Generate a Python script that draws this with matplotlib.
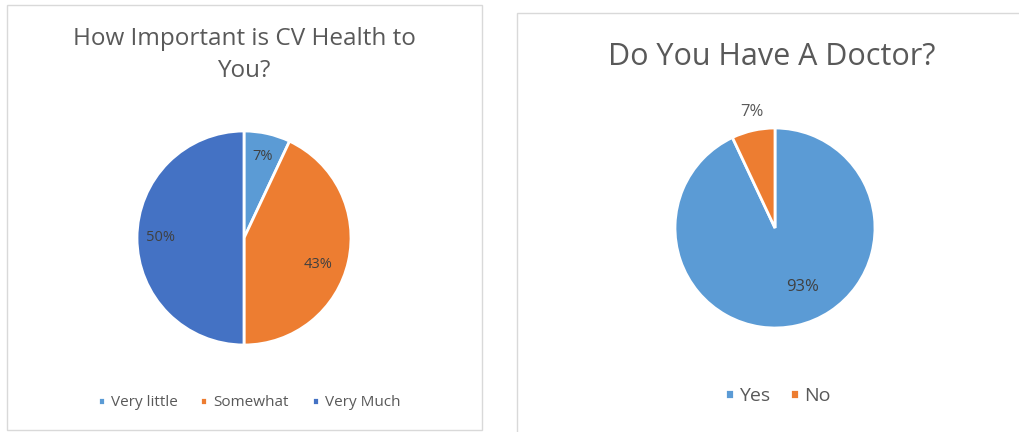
import matplotlib.pyplot as plt
from matplotlib.patches import Rectangle

plt.rcParams['font.family'] = ['Open Sans', 'DejaVu Sans']

# survey results
cv_labels = ['Very little', 'Somewhat', 'Very Much']
cv_values = [7, 43, 50]
doc_labels = ['Yes', 'No']
doc_values = [93, 7]

blue_light = '#5B9BD5'
orange = '#ED7D31'
blue_dark = '#4472C4'
text_grey = '#595959'

W, H = 1019, 432
fig = plt.figure(figsize=(W / 100, H / 100), dpi=100)
fig.patch.set_facecolor('white')


def px_axes(cx, cy, size=300):
    # square axes centred on a pixel position (y measured from top)
    ax = fig.add_axes([(cx - size / 2) / W, 1 - (cy + size / 2) / H, size / W, size / H])
    ax.axis('off')
    return ax


def fix_limits(ax):
    # pie() resets the limits, so pin them afterwards: 100 px per unit
    ax.set_xlim(-1.5, 1.5)
    ax.set_ylim(-1.5, 1.5)
    ax.set_aspect('equal')


# panel frames
fig.add_artist(Rectangle((7 / W, 1 - 430 / H), 475 / W, 425 / H, transform=fig.transFigure,
                         fill=False, edgecolor='#d9d9d9', linewidth=1))
fig.add_artist(Rectangle((517 / W, 1 - 440 / H), 520 / W, 427 / H, transform=fig.transFigure,
                         fill=False, edgecolor='#d9d9d9', linewidth=1))

# left pie
ax1 = px_axes(244, 238)
w1, t1, a1 = ax1.pie(cv_values, colors=[blue_light, orange, blue_dark], startangle=90,
                     counterclock=False, radius=1.07, autopct='%d%%', pctdistance=0.78,
                     wedgeprops=dict(edgecolor='white', linewidth=2),
                     textprops=dict(color='#404040', fontsize=10.5))
fix_limits(ax1)
a1[1].set_position((0.74, -0.26))
fig.text(244 / W, 1 - 55 / H, 'How Important is CV Health to\nYou?', ha='center', va='center',
         fontsize=17.5, color=text_grey, linespacing=1.4)
fig.legend(w1, cv_labels, loc='center', bbox_to_anchor=(249 / W, 1 - 403 / H), ncol=3,
           frameon=False, handlelength=0.45, handleheight=0.45, handletextpad=0.4,
           columnspacing=1.5, prop=dict(size=11), labelcolor=text_grey)

# right pie
ax2 = px_axes(775, 228)
w2, t2, a2 = ax2.pie(doc_values, colors=[blue_light, orange], startangle=90,
                     counterclock=False, radius=1.0, autopct='%d%%', pctdistance=0.65,
                     wedgeprops=dict(edgecolor='white', linewidth=2),
                     textprops=dict(color='#404040', fontsize=12))
fix_limits(ax2)
a2[0].set_position((0.28, -0.59))
# small slice label sits outside the pie
a2[1].set_position((-0.23, 1.16))
a2[1].set_color(text_grey)
fig.text(772 / W, 1 - 57 / H, 'Do You Have A Doctor?', ha='center', va='center',
         fontsize=22, color=text_grey)
fig.legend(w2, doc_labels, loc='center', bbox_to_anchor=(778 / W, 1 - 396 / H), ncol=2,
           frameon=False, handlelength=0.45, handleheight=0.45, handletextpad=0.3,
           columnspacing=1.0, prop=dict(size=14), labelcolor=text_grey)

fig.savefig('out.png', dpi=100)
